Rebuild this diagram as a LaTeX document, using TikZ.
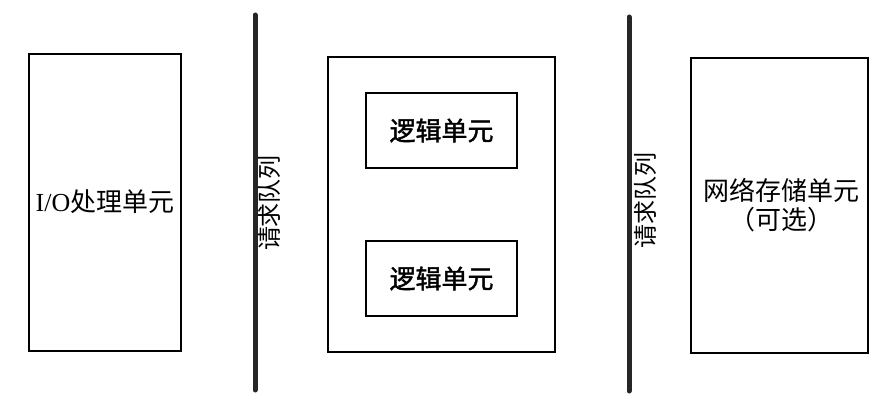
\documentclass[tikz,border=0pt]{standalone}
\usepackage{fontspec}
\setmainfont{Liberation Serif}
\newfontfamily\cjk{Noto Sans CJK SC}
\newfontfamily\cjkbold[FakeBold=1.5]{Noto Sans CJK SC}
\begin{document}
\begin{tikzpicture}[
		x=1pt,y=-1pt,
		unitbox/.style={draw,line width=1.4pt,inner sep=0pt},
		queueline/.style={line width=5pt,line cap=round,black!85},
		queuelabel/.style={rotate=90,font=\cjk\fontsize{24}{26}\selectfont},
		boxtext/.style={font=\cjk\fontsize{26}{29}\selectfont,align=center}
	]
	\useasboundingbox (0,0) rectangle (884,409);
	% I/O unit
	\node[unitbox,minimum width=152pt,minimum height=297pt] (io) at (105,202.5) {};
	\node[boxtext] (iotext) at (105,202) {\fontspec{Liberation Serif}I/O\cjk 处理单元};
	% first request queue
	\coordinate (qa top) at (255,15);
	\coordinate (qa bot) at (255,390);
	\draw[queueline] (qa top) -- (qa bot);
	\node[queuelabel] (qa) at (269,203) {请求队列};
	% logic units
	\node[unitbox,minimum width=227pt,minimum height=295pt] (logic) at (441.5,204.5) {};
	\node[unitbox,minimum width=151pt,minimum height=75pt] (logica) at (441.5,130.5) {};
	\node[unitbox,minimum width=151pt,minimum height=75pt] (logicb) at (441.5,278.5) {};
	\node[boxtext,font=\cjkbold\fontsize{26}{29}\selectfont] at (logica) {逻辑单元};
	\node[boxtext,font=\cjkbold\fontsize{26}{29}\selectfont] at (logicb) {逻辑单元};
	% second request queue
	\coordinate (qb top) at (629,17);
	\coordinate (qb bot) at (629,391);
	\draw[queueline] (qb top) -- (qb bot);
	\node[queuelabel] (qb) at (645,200) {请求队列};
	% network storage
	\node[unitbox,minimum width=177pt,minimum height=295pt] (store) at (779.5,205.5) {};
	\node[boxtext] (storetext) at (781,205) {网络存储单元\\（可选）};
\end{tikzpicture}
\end{document}
